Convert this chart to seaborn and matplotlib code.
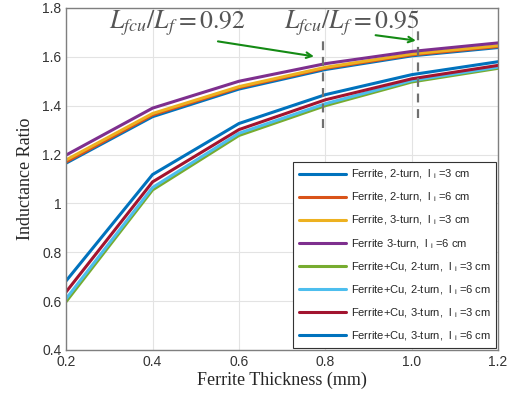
import matplotlib
matplotlib.use("Agg")
import matplotlib.pyplot as plt
import seaborn as sns
import pandas as pd

thickness = [0.2, 0.4, 0.6, 0.8, 1.0, 1.2]

labels = [
    r"Ferrite, 2-turn,  l $_\mathregular{i}$ =3 cm",
    r"Ferrite, 2-turn,  l $_\mathregular{i}$ =6 cm",
    r"Ferrite, 3-turn,  l $_\mathregular{i}$ =3 cm",
    r"Ferrite 3-turn,  l $_\mathregular{i}$ =6 cm",
    r"Ferrite+Cu, 2-turn,  l $_\mathregular{i}$ =3 cm",
    r"Ferrite+Cu, 2-turn,  l $_\mathregular{i}$ =6 cm",
    r"Ferrite+Cu, 3-turn,  l $_\mathregular{i}$ =3 cm",
    r"Ferrite+Cu, 3-turn,  l $_\mathregular{i}$ =6 cm",
]

f_2t_3 = [1.165, 1.355, 1.468, 1.548, 1.604, 1.638]
f_2t_6 = [1.170, 1.362, 1.474, 1.553, 1.608, 1.642]
f_3t_3 = [1.178, 1.368, 1.478, 1.557, 1.612, 1.646]
f_3t_6 = [1.198, 1.390, 1.500, 1.572, 1.622, 1.657]
fc_2t_3 = [0.598, 1.055, 1.278, 1.400, 1.497, 1.553]
fc_2t_6 = [0.610, 1.065, 1.287, 1.408, 1.503, 1.558]
fc_3t_3 = [0.638, 1.088, 1.302, 1.424, 1.510, 1.565]
fc_3t_6 = [0.683, 1.118, 1.327, 1.445, 1.527, 1.580]

series = [f_2t_3, f_2t_6, f_3t_3, f_3t_6, fc_2t_3, fc_2t_6, fc_3t_3, fc_3t_6]
colors = ["#0072BD", "#D95319", "#EDB120", "#7E2F8E",
          "#77AC30", "#4DBEEE", "#A2142F", "#0072BD"]

rows = []
for lab, vals in zip(labels, series):
    for x, v in zip(thickness, vals):
        rows.append({"x": x, "y": v, "series": lab})
df = pd.DataFrame(rows)

sns.set_style("white")
plt.rcParams["font.family"] = ["Liberation Sans", "DejaVu Sans"]

fig = plt.figure(figsize=(5.13, 3.99), dpi=100)
ax = fig.add_axes([0.129, 0.123, 0.842, 0.857])

sns.lineplot(data=df, x="x", y="y", hue="series", hue_order=labels,
             palette=dict(zip(labels, colors)), linewidth=2.2, ax=ax,
             legend=True)

ax.set_xlim(0.2, 1.2)
ax.set_ylim(0.4, 1.8)
ax.set_xticks([0.2, 0.4, 0.6, 0.8, 1.0, 1.2])
ax.set_xticklabels(["0.2", "0.4", "0.6", "0.8", "1.0", "1.2"])
ax.set_yticks([0.4, 0.6, 0.8, 1.0, 1.2, 1.4, 1.6, 1.8])
ax.set_yticklabels(["0.4", "0.6", "0.8", "1", "1.2", "1.4", "1.6", "1.8"])
ax.tick_params(labelsize=10, colors="#333333", direction="in", length=3)
ax.grid(True, color="#e3e3e3", linewidth=0.8)
for s in ax.spines.values():
    s.set_color("#7f7f7f")
    s.set_linewidth(1.0)

ax.set_xlabel("Ferrite Thickness (mm)", family="Liberation Serif", fontsize=13, labelpad=2)
ax.set_ylabel("Inductance Ratio", family="Liberation Serif", fontsize=13, labelpad=6)

# dashed markers
ax.plot([0.795, 0.795], [1.31, 1.665], ls="--", color="#707070", lw=1.6, dashes=(4, 3))
ax.plot([1.014, 1.014], [1.35, 1.705], ls="--", color="#707070", lw=1.6, dashes=(4, 3))

ax.text(0.30, 1.715, r"$L_{fcu}/L_f = 0.92$", fontsize=18.5, color="#555555",
        family="Liberation Serif", math_fontfamily="stix")
ax.text(0.705, 1.715, r"$L_{fcu}/L_f = 0.95$", fontsize=18.5, color="#555555",
        family="Liberation Serif", math_fontfamily="stix")
ax.annotate("", xy=(0.78, 1.6), xytext=(0.545, 1.665),
            arrowprops=dict(arrowstyle="->", color="#148a14", lw=1.5))
ax.annotate("", xy=(1.016, 1.665), xytext=(0.91, 1.69),
            arrowprops=dict(arrowstyle="->", color="#148a14", lw=1.5))

leg = ax.legend(loc="lower right", fontsize=8, frameon=True, fancybox=False,
                edgecolor="#333333", framealpha=1, handlelength=4.3,
                labelspacing=0.85, borderaxespad=0.15, handletextpad=0.4,
                borderpad=0.5)
leg.get_frame().set_linewidth(0.8)

fig.savefig("out.png", dpi=100)
